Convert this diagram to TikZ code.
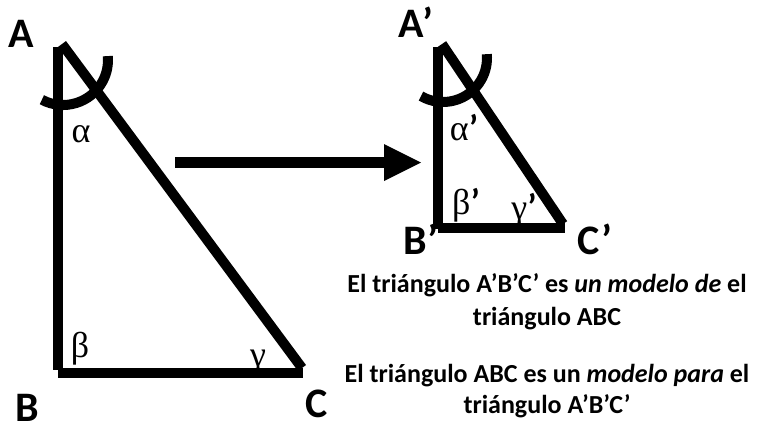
\documentclass[tikz,border=0pt]{standalone}
\usepackage{fontspec}
\setmainfont{Carlito}
\newfontfamily\greekfont{Liberation Serif}
\begin{document}
\begin{tikzpicture}[x=1pt,y=-1pt,
  edge/.style={line width=10pt,line cap=butt},
  vlabel/.style={font=\fontsize{42}{46}\selectfont\bfseries,inner sep=0pt,anchor=base},
  glabel/.style={font=\fontsize{36}{38}\selectfont,inner sep=0pt,anchor=base},
  txt/.style={font=\fontsize{26}{30}\selectfont\bfseries,inner sep=0pt,anchor=base}]
\useasboundingbox (0,0) rectangle (761,429);
% big triangle
\coordinate (Atop) at (58,47);
\coordinate (Bc) at (58,370);
\coordinate (Bh) at (58,372.5);
\coordinate (Ch) at (303,372.5);
\coordinate (Ah) at (62,44);
\coordinate (Cc) at (302,368);
\draw[edge] (Atop) -- (Bc);
\draw[edge] (Bh) -- (Ch);
\draw[edge] (Ah) -- (Cc);
\coordinate (arcA) at (63,60);
\draw[edge] (arcA) ++(118:45) arc[start angle=118,end angle=-5,radius=45];
% small triangle
\coordinate (Atop2) at (438,47);
\coordinate (Bc2) at (438,229);
\coordinate (Bh2) at (438,227.5);
\coordinate (Ch2) at (565,227.5);
\coordinate (Ah2) at (442,44);
\coordinate (Cc2) at (563,224);
\draw[edge] (Atop2) -- (Bc2);
\draw[edge] (Bh2) -- (Ch2);
\draw[edge] (Ah2) -- (Cc2);
\coordinate (arcA2) at (443,58);
\draw[edge] (arcA2) ++(120:44) arc[start angle=120,end angle=-5,radius=44];
% arrow
\coordinate (s0) at (175,162.5);
\coordinate (s1) at (385,162.5);
\draw[line width=11pt] (s0) -- (s1);
\fill (384,144) -- (421,162.5) -- (384,181) -- cycle;
% vertex labels
\node[vlabel] (lA) at (21,47) {A};
\node[vlabel] (lB) at (27,421) {B};
\node[vlabel] (lC) at (317,417) {C};
\node[vlabel] (lA2) at (416,37) {A’};
\node[vlabel] (lB2) at (421,254) {B’};
\node[vlabel] (lC2) at (595,254) {C’};
% angle labels
\node[glabel] (al) at (81,142) {\greekfont α};
\node[glabel] (be) at (80,357) {\greekfont β};
\node[glabel] (ga) at (258,366) {\greekfont γ};
\node[glabel] (al2) at (464,140) {\greekfont α\bfseries\fontspec{Carlito}’};
\node[glabel] (be2) at (466,214) {\greekfont β\bfseries\fontspec{Carlito}’};
\node[glabel] (ga2) at (524,219) {\greekfont γ\bfseries\fontspec{Carlito}’};
% texts
\node[txt] (t1) at (547,292) {El triángulo A’B’C’ es \textit{un modelo de} el};
\node[txt] (t2) at (547,325) {triángulo ABC};
\node[txt] (t3) at (547,382) {El triángulo ABC es un \textit{modelo para} el};
\node[txt] (t4) at (547,413) {triángulo A’B’C’};
\end{tikzpicture}
\end{document}
